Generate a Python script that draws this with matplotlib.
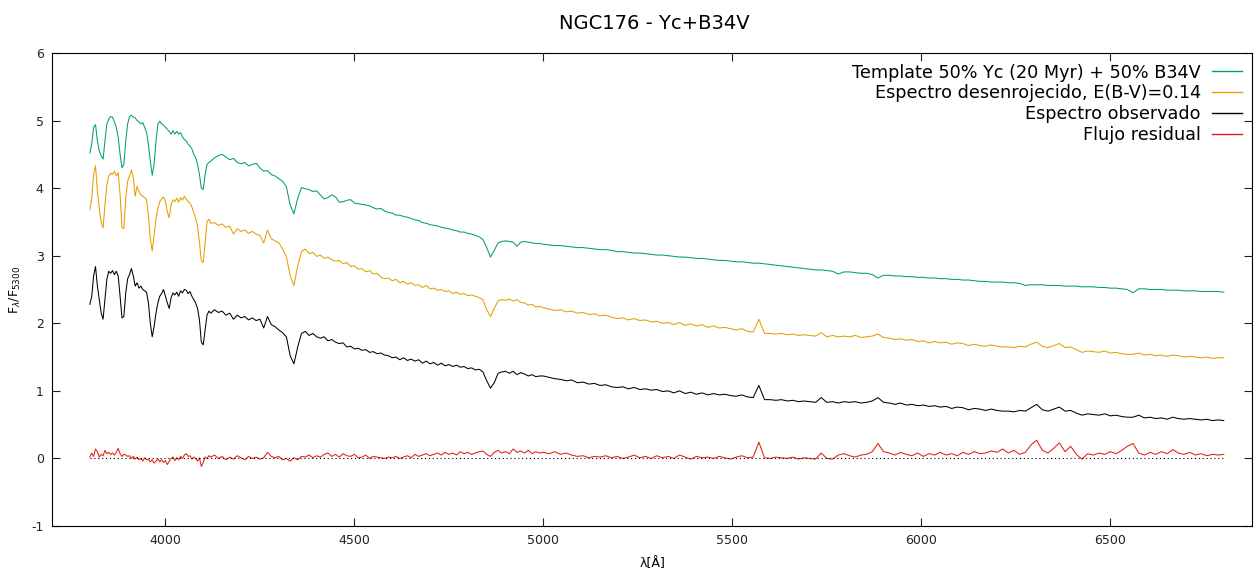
import numpy as np
import matplotlib; matplotlib.use("Agg")
import matplotlib.pyplot as plt

plt.rcParams["axes.unicode_minus"] = False

# wavelength grid (Angstrom): fine in the blue, coarser to the red
WAVE = np.concatenate([np.arange(3800, 4121, 5),
                       np.arange(4130, 4991, 10),
                       np.arange(5000, 6801, 15)])

# Template 50% Yc (20 Myr) + 50% B34V
TEMPLATE = [
    # 3800-4120, step 5
    4.52, 4.65, 4.90, 4.94, 4.70, 4.55, 4.48, 4.43, 4.70, 4.95,
    5.02, 5.06, 5.05, 4.98, 4.90, 4.75, 4.50, 4.30, 4.35, 4.70,
    4.95, 5.06, 5.08, 5.05, 5.04, 5.00, 4.98, 4.95, 4.97, 4.90,
    4.82, 4.65, 4.40, 4.19, 4.35, 4.70, 4.95, 4.99, 4.95, 4.93,
    4.90, 4.87, 4.84, 4.80, 4.85, 4.80, 4.84, 4.80, 4.82, 4.76,
    4.72, 4.70, 4.65, 4.62, 4.58, 4.50, 4.45, 4.35, 4.20, 4.00,
    3.98, 4.20, 4.35, 4.38, 4.40,
    # 4130-4990, step 10
    4.45, 4.48, 4.50, 4.46, 4.42, 4.44, 4.38, 4.36, 4.38, 4.33,
    4.35, 4.37, 4.30, 4.25, 4.26, 4.20, 4.18, 4.14, 4.10, 4.02,
    3.75, 3.62, 3.85, 4.01, 3.99, 3.98, 3.95, 3.96, 3.90, 3.84,
    3.86, 3.90, 3.87, 3.79, 3.80, 3.82, 3.83, 3.78, 3.77, 3.76,
    3.75, 3.74, 3.71, 3.69, 3.70, 3.66, 3.64, 3.63, 3.60, 3.60,
    3.58, 3.57, 3.55, 3.53, 3.52, 3.49, 3.48, 3.46, 3.45, 3.44,
    3.42, 3.41, 3.40, 3.38, 3.37, 3.35, 3.35, 3.33, 3.32, 3.30,
    3.28, 3.24, 3.12, 2.98, 3.08, 3.19, 3.21, 3.22, 3.21, 3.20,
    3.14, 3.20, 3.21, 3.20, 3.19, 3.18, 3.18,
    # 5000-6800, step 15
    3.17, 3.16, 3.15, 3.15, 3.14, 3.13, 3.12, 3.12, 3.11, 3.10,
    3.09, 3.09, 3.08, 3.06, 3.06, 3.05, 3.04, 3.04, 3.03, 3.02,
    3.01, 3.01, 3.00, 2.99, 2.98, 2.98, 2.97, 2.96, 2.96, 2.95,
    2.94, 2.93, 2.93, 2.92, 2.91, 2.91, 2.90, 2.89, 2.89, 2.88,
    2.87, 2.86, 2.85, 2.84, 2.83, 2.82, 2.81, 2.80, 2.79, 2.79,
    2.78, 2.77, 2.73, 2.76, 2.76, 2.75, 2.74, 2.74, 2.72, 2.67,
    2.71, 2.71, 2.70, 2.70, 2.69, 2.69, 2.68, 2.68, 2.67, 2.67,
    2.66, 2.66, 2.65, 2.65, 2.64, 2.64, 2.63, 2.62, 2.62, 2.61,
    2.61, 2.61, 2.60, 2.60, 2.59, 2.56, 2.57, 2.57, 2.57, 2.56,
    2.56, 2.56, 2.55, 2.55, 2.55, 2.54, 2.54, 2.54, 2.53, 2.53,
    2.52, 2.52, 2.51, 2.50, 2.45, 2.51, 2.51, 2.50, 2.50, 2.50,
    2.49, 2.49, 2.49, 2.48, 2.48, 2.48, 2.47, 2.47, 2.47, 2.47,
    2.46,
]

# Espectro desenrojecido, E(B-V)=0.14
DERED = [
    3.68, 3.85, 4.20, 4.33, 3.95, 3.70, 3.50, 3.41, 3.75, 4.05,
    4.18, 4.22, 4.20, 4.25, 4.18, 4.23, 3.90, 3.42, 3.40, 3.85,
    4.10, 4.18, 4.27, 4.15, 3.88, 4.03, 3.95, 3.90, 3.88, 3.86,
    3.83, 3.60, 3.25, 3.07, 3.30, 3.55, 3.70, 3.80, 3.84, 3.87,
    3.80, 3.65, 3.56, 3.75, 3.83, 3.80, 3.85, 3.79, 3.86, 3.82,
    3.88, 3.84, 3.80, 3.78, 3.72, 3.64, 3.55, 3.44, 3.20, 2.92,
    2.90, 3.20, 3.50, 3.54, 3.48,
    3.49, 3.45, 3.47, 3.42, 3.44, 3.32, 3.40, 3.36, 3.38, 3.33,
    3.36, 3.32, 3.30, 3.19, 3.38, 3.25, 3.22, 3.19, 3.10, 2.99,
    2.70, 2.56, 2.85, 3.06, 3.10, 3.03, 3.05, 2.99, 3.01, 2.96,
    2.98, 2.94, 2.92, 2.93, 2.88, 2.90, 2.84, 2.85, 2.80, 2.81,
    2.76, 2.78, 2.73, 2.74, 2.68, 2.66, 2.67, 2.63, 2.65, 2.60,
    2.62, 2.58, 2.60, 2.56, 2.57, 2.53, 2.56, 2.51, 2.52, 2.49,
    2.50, 2.47, 2.48, 2.44, 2.46, 2.43, 2.44, 2.41, 2.42, 2.40,
    2.38, 2.35, 2.20, 2.10, 2.22, 2.33, 2.35, 2.34, 2.36, 2.33,
    2.35, 2.31, 2.30, 2.27, 2.28, 2.24, 2.25,
    2.23, 2.21, 2.19, 2.20, 2.17, 2.18, 2.15, 2.16, 2.13, 2.14,
    2.11, 2.12, 2.09, 2.07, 2.08, 2.05, 2.07, 2.04, 2.05, 2.02,
    2.03, 2.00, 2.01, 1.98, 2.01, 1.97, 1.99, 1.96, 1.98, 1.94,
    1.96, 1.93, 1.94, 1.92, 1.90, 1.92, 1.88, 1.87, 2.06, 1.85,
    1.85, 1.84, 1.85, 1.83, 1.84, 1.82, 1.83, 1.82, 1.81, 1.86,
    1.80, 1.82, 1.80, 1.81, 1.80, 1.82, 1.79, 1.80, 1.81, 1.84,
    1.79, 1.78, 1.76, 1.77, 1.75, 1.76, 1.73, 1.74, 1.71, 1.73,
    1.71, 1.72, 1.69, 1.71, 1.70, 1.67, 1.69, 1.67, 1.66, 1.68,
    1.66, 1.65, 1.65, 1.64, 1.66, 1.65, 1.69, 1.72, 1.66, 1.64,
    1.67, 1.70, 1.64, 1.65, 1.61, 1.57, 1.59, 1.58, 1.57, 1.59,
    1.56, 1.57, 1.55, 1.54, 1.54, 1.56, 1.53, 1.54, 1.52, 1.53,
    1.51, 1.53, 1.52, 1.50, 1.51, 1.50, 1.49, 1.50, 1.48, 1.49,
    1.49,
]

# Espectro observado
OBSERVED = [
    2.28, 2.40, 2.70, 2.84, 2.55, 2.35, 2.15, 2.06, 2.35, 2.65,
    2.77, 2.74, 2.78, 2.72, 2.77, 2.70, 2.40, 2.08, 2.10, 2.45,
    2.66, 2.72, 2.81, 2.70, 2.55, 2.60, 2.52, 2.55, 2.50, 2.48,
    2.46, 2.30, 2.00, 1.80, 1.95, 2.15, 2.30, 2.40, 2.44, 2.50,
    2.40, 2.30, 2.22, 2.38, 2.45, 2.42, 2.46, 2.40, 2.48, 2.45,
    2.50, 2.49, 2.44, 2.47, 2.40, 2.35, 2.30, 2.22, 2.05, 1.72,
    1.68, 1.90, 2.12, 2.18, 2.15,
    2.20, 2.16, 2.18, 2.12, 2.15, 2.06, 2.12, 2.08, 2.10, 2.05,
    2.08, 2.04, 2.06, 1.93, 2.10, 1.98, 1.95, 1.90, 1.86, 1.80,
    1.52, 1.40, 1.65, 1.85, 1.88, 1.82, 1.85, 1.80, 1.78, 1.80,
    1.74, 1.76, 1.72, 1.70, 1.71, 1.65, 1.66, 1.62, 1.63, 1.60,
    1.61, 1.57, 1.58, 1.55, 1.56, 1.53, 1.52, 1.49, 1.50, 1.46,
    1.49, 1.45, 1.47, 1.44, 1.46, 1.41, 1.44, 1.40, 1.42, 1.38,
    1.41, 1.37, 1.39, 1.36, 1.38, 1.35, 1.36, 1.33, 1.34, 1.31,
    1.32, 1.28, 1.15, 1.04, 1.12, 1.26, 1.28, 1.29, 1.26, 1.29,
    1.24, 1.27, 1.25, 1.22, 1.24, 1.21, 1.22,
    1.22, 1.20, 1.18, 1.17, 1.15, 1.16, 1.12, 1.13, 1.10, 1.11,
    1.08, 1.09, 1.06, 1.05, 1.06, 1.03, 1.05, 1.02, 1.03, 1.01,
    1.02, 0.99, 1.00, 0.97, 1.00, 0.96, 0.98, 0.95, 0.97, 0.94,
    0.96, 0.94, 0.95, 0.93, 0.92, 0.94, 0.91, 0.90, 1.08, 0.87,
    0.87, 0.86, 0.87, 0.85, 0.86, 0.84, 0.85, 0.84, 0.83, 0.90,
    0.83, 0.84, 0.82, 0.84, 0.83, 0.84, 0.82, 0.83, 0.85, 0.90,
    0.83, 0.82, 0.80, 0.82, 0.79, 0.80, 0.78, 0.79, 0.77, 0.78,
    0.76, 0.77, 0.74, 0.76, 0.75, 0.72, 0.74, 0.73, 0.71, 0.73,
    0.71, 0.70, 0.70, 0.69, 0.71, 0.70, 0.75, 0.80, 0.72, 0.70,
    0.73, 0.76, 0.70, 0.71, 0.67, 0.64, 0.66, 0.65, 0.64, 0.66,
    0.63, 0.64, 0.62, 0.61, 0.61, 0.64, 0.60, 0.61, 0.59, 0.60,
    0.58, 0.61, 0.59, 0.58, 0.59, 0.58, 0.57, 0.58, 0.56, 0.57,
    0.56,
]

# Flujo residual
RESIDUAL = [
    0.02, 0.08, 0.03, 0.14, 0.10, 0.02, 0.06, 0.04, 0.12, 0.07,
    0.09, 0.06, 0.08, 0.05, 0.09, 0.15, 0.07, 0.03, 0.06, 0.05,
    0.03, 0.04, 0.00, 0.03, -0.01, 0.02, -0.02, 0.00, -0.04, 0.01,
    -0.02, -0.01, -0.05, -0.02, -0.07, -0.04, -0.01, -0.05, -0.02, -0.06,
    -0.03, -0.09, -0.04, 0.00, 0.02, -0.03, 0.01, -0.02, 0.03, 0.00,
    0.05, 0.07, 0.03, 0.04, -0.01, 0.02, 0.00, -0.04, 0.01, -0.12,
    -0.06, 0.02, 0.00, 0.04, 0.02,
    0.05, 0.00, 0.03, -0.02, 0.02, -0.01, 0.04, 0.01, -0.02, 0.03,
    0.00, 0.02, -0.01, 0.01, 0.09, 0.03, 0.01, 0.03, -0.02, 0.00,
    -0.04, 0.01, -0.02, 0.03, 0.02, 0.05, 0.01, 0.04, 0.02, 0.06,
    0.08, 0.03, 0.06, 0.02, 0.07, 0.04, 0.03, 0.06, 0.01, 0.02,
    0.05, 0.00, 0.03, 0.02, 0.01, 0.00, 0.02, 0.01, 0.03, 0.00,
    0.02, 0.04, 0.01, 0.06, 0.03, 0.05, 0.07, 0.04, 0.06, 0.08,
    0.05, 0.09, 0.06, 0.08, 0.05, 0.10, 0.07, 0.09, 0.06, 0.08,
    0.10, 0.11, 0.06, 0.03, 0.09, 0.12, 0.08, 0.10, 0.07, 0.14,
    0.09, 0.11, 0.08, 0.12, 0.07, 0.10, 0.08,
    0.09, 0.07, 0.10, 0.06, 0.08, 0.05, 0.03, 0.04, 0.01, 0.03,
    0.02, 0.04, 0.01, 0.03, 0.00, 0.02, 0.05, 0.01, 0.03, 0.00,
    0.04, 0.01, 0.03, 0.00, 0.05, 0.02, -0.01, 0.03, 0.01, 0.02,
    0.00, 0.03, 0.01, -0.01, 0.02, 0.04, 0.01, 0.02, 0.24, 0.01,
    0.00, 0.02, 0.01, 0.00, 0.02, -0.01, 0.01, 0.00, -0.01, 0.08,
    0.00, -0.01, 0.05, 0.07, 0.04, 0.02, 0.05, 0.06, 0.10, 0.22,
    0.10, 0.08, 0.05, 0.09, 0.06, 0.04, 0.08, 0.03, 0.07, 0.05,
    0.09, 0.05, 0.07, 0.04, 0.09, 0.06, 0.10, 0.07, 0.08, 0.11,
    0.09, 0.14, 0.08, 0.12, 0.06, 0.09, 0.20, 0.27, 0.12, 0.08,
    0.15, 0.23, 0.10, 0.18, 0.06, -0.01, 0.07, 0.05, 0.08, 0.06,
    0.10, 0.07, 0.12, 0.18, 0.22, 0.08, 0.05, 0.09, 0.06, 0.10,
    0.07, 0.13, 0.08, 0.06, 0.09, 0.05, 0.07, 0.04, 0.06, 0.05,
    0.06,
]

LABELS = ["Template 50% Yc (20 Myr) + 50% B34V",
          "Espectro desenrojecido, E(B-V)=0.14",
          "Espectro observado",
          "Flujo residual"]
COLORS = ["#009e73", "#e69f00", "#000000", "#e51e10"]

fig = plt.figure(figsize=(12.54, 5.71), dpi=100)
ax = fig.add_axes([0.0415, 0.0788, 0.957, 0.8284])

for flux, lab, col in zip([TEMPLATE, DERED, OBSERVED, RESIDUAL], LABELS, COLORS):
    ax.plot(WAVE, flux, color=col, lw=0.75, label=lab)
ax.plot([WAVE[0], WAVE[-1]], [0, 0], color="black", lw=0.8, ls=(0, (1, 2.5)))

ax.set_xlim(3700, 6875)
ax.set_ylim(-1, 6)
ax.set_xticks([4000, 4500, 5000, 5500, 6000, 6500])
ax.set_yticks(range(-1, 7))
ax.tick_params(direction="in", length=6, width=0.8, top=True, right=True,
               labelsize=9, colors="#222222", pad=6)
for sp in ax.spines.values():
    sp.set_linewidth(0.8)

ax.set_xlabel("λ[Å]", fontsize=9, labelpad=7)
ax.set_ylabel(r"F$_\lambda$/F$_{5300}$", fontsize=9, labelpad=6)
fig.suptitle("NGC176 - Yc+B34V", fontsize=14, x=0.522, y=0.975)

leg = ax.legend(loc="upper right", frameon=False, markerfirst=False, fontsize=12.7,
                handlelength=1.7, handletextpad=0.6, labelspacing=0.16,
                borderaxespad=0.3, borderpad=0.3)
for ln, col in zip(leg.get_lines(), COLORS):
    ln.set_color(col)
    ln.set_linewidth(1.0)

fig.savefig("out.png", dpi=100)
